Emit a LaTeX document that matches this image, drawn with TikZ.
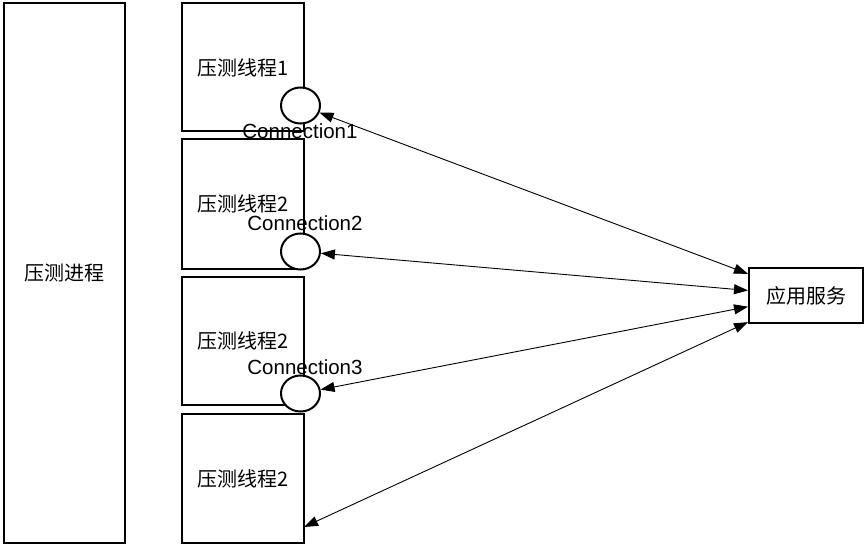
\documentclass[tikz,border=0pt]{standalone}
\usepackage{fontspec}
\setmainfont{Liberation Sans}
\newfontfamily\cjk{Noto Sans CJK SC}
\usetikzlibrary{arrows.meta,shapes.geometric}
\begin{document}
\begin{tikzpicture}[x=1pt,y=-1pt,
  box/.style={draw,line width=2pt,rectangle,inner sep=0pt,fill=white,
    font=\cjk\fontsize{20}{23}\selectfont},
  conn/.style={draw,line width=2pt,ellipse,inner sep=0pt,fill=white,
    minimum width=39pt,minimum height=36pt},
  lbl/.style={font=\fontsize{20.5}{23}\selectfont,inner sep=0pt},
  link/.style={line width=0.9pt,{Triangle[length=14pt,width=10pt]}-{Triangle[length=14pt,width=10pt]}}]
\useasboundingbox (0,0) rectangle (865,548);
\node[box,minimum width=121pt,minimum height=540pt] (proc) at (64.5,273) {压测进程};
\node[box,minimum width=122pt,minimum height=128pt,text depth=0pt] (t1) at (243,67) {压测线程1};
\node[box,minimum width=122pt,minimum height=130pt] (t2) at (243,204) {压测线程2};
\node[box,minimum width=122pt,minimum height=128pt] (t3) at (243,341) {压测线程2};
\node[box,minimum width=122pt,minimum height=129pt] (t4) at (243,478.5) {压测线程2};
\node[conn] (c1) at (300.5,105.5) {};
\node[conn] (c2) at (300.5,251.5) {};
\node[conn] (c3) at (300.5,393.5) {};
\node[lbl] (l1) at (300,131) {Connection1};
\node[lbl] (l2) at (305,223) {Connection2};
\node[lbl] (l3) at (305,367) {Connection3};
\node[box,minimum width=114pt,minimum height=55pt] (app) at (806,295.5) {应用服务};
\coordinate (e4) at (304,527);
\draw[link] (c1) -- (app);
\draw[link] (c2) -- (app);
\draw[link] (c3) -- (app);
\draw[link] (e4) -- (app);
\end{tikzpicture}
\end{document}
